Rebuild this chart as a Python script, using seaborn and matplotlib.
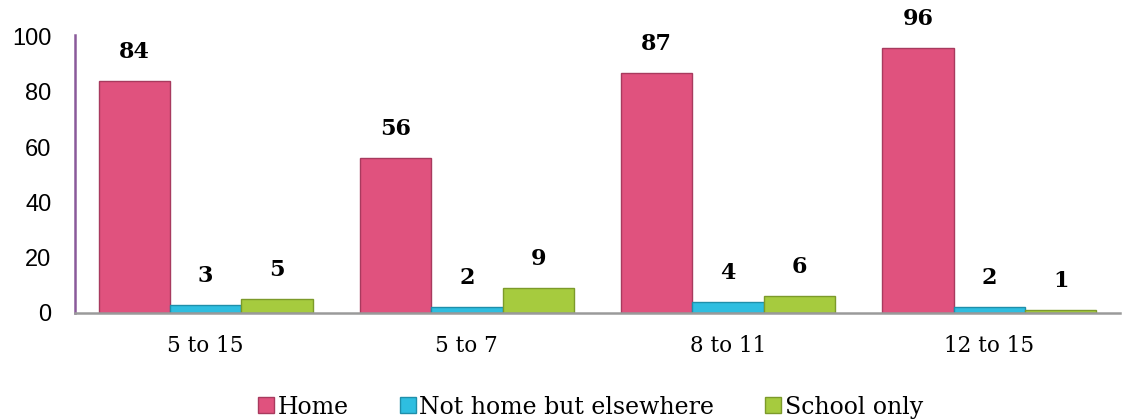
import matplotlib
matplotlib.use("Agg")
import matplotlib.pyplot as plt
import seaborn as sns
import pandas as pd
from matplotlib.lines import Line2D

# Age bands and series values (%)
age_groups = ["5 to 15", "5 to 7", "8 to 11", "12 to 15"]
series_names = ["Home", "Not home but elsewhere", "School only"]
home = [84, 56, 87, 96]
not_home = [3, 2, 4, 2]
school_only = [5, 9, 6, 1]
y_ticks = [0, 20, 40, 60, 80, 100]

colors = ["#E0527E", "#2EBEE0", "#A6CB3E"]
edge_colors = ["#A83A5E", "#1F8FAA", "#7C9A2A"]

df = pd.DataFrame({
    "group": age_groups * 3,
    "series": [series_names[0]] * 4 + [series_names[1]] * 4 + [series_names[2]] * 4,
    "value": home + not_home + school_only,
})

sns.set_theme(style="white")
plt.rcParams["font.family"] = ["DejaVu Serif"]

fig = plt.figure(figsize=(11.32, 4.19), dpi=100)
ax = fig.add_axes([0.0663, 0.253, 0.923, 0.664])

sns.barplot(data=df, x="group", y="value", hue="series", order=age_groups,
            hue_order=series_names, palette=colors, width=0.82, saturation=1,
            errorbar=None, legend=False, ax=ax)

# Edge colour per series and value labels above each bar
for i, cont in enumerate(ax.containers):
    for bar in cont:
        bar.set_edgecolor(edge_colors[i])
        bar.set_linewidth(1.0)
    ax.bar_label(cont, labels=[f"{v:.0f}" for v in cont.datavalues], padding=13,
                 fontsize=16, fontweight="bold", family="DejaVu Serif", color="black")

ax.set_ylim(0, 100.7)
ax.set_yticks(y_ticks)
ax.set_yticklabels([str(t) for t in y_ticks], family="Liberation Sans", fontsize=17,
                   color="black")
ax.tick_params(axis="y", length=0, pad=17)
ax.tick_params(axis="x", length=0, pad=16, labelsize=15.5, labelcolor="black")
for lab in ax.get_xticklabels():
    lab.set_family("DejaVu Serif")
ax.set_xlabel("")
ax.set_ylabel("")

for side in ["top", "right"]:
    ax.spines[side].set_visible(False)
ax.spines["left"].set_color("#8A5A9A")
ax.spines["left"].set_linewidth(1.8)
ax.spines["bottom"].set_color("#9A9A9A")
ax.spines["bottom"].set_linewidth(1.8)
ax.grid(False)

handles = [Line2D([0], [0], marker="s", linestyle="none", markersize=11,
                  markerfacecolor=c, markeredgecolor=e)
           for c, e in zip(colors, edge_colors)]
fig.legend(handles, series_names, loc="lower center", bbox_to_anchor=(0.52, -0.05),
           ncol=3, frameon=False, prop={"family": "DejaVu Serif", "size": 17},
           handletextpad=0.0, columnspacing=2.0, handlelength=1.0, labelcolor="black")

fig.savefig("out.png", dpi=100)
